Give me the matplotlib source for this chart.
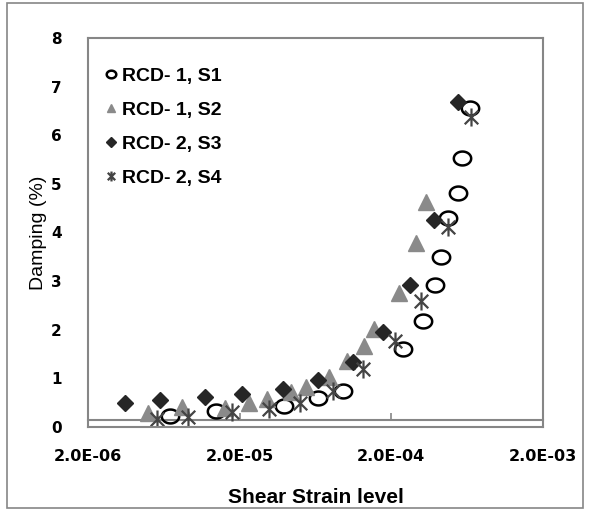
import numpy as np
import matplotlib
matplotlib.use("Agg")
from matplotlib import pyplot as plt
from matplotlib.path import Path
from matplotlib.patches import Rectangle

# data (strain, damping %)
s1_x = [6.98e-6, 1.39e-5, 3.93e-5, 6.55e-5, 9.57e-5, 2.39e-4, 3.24e-4, 3.91e-4,
        4.25e-4, 4.70e-4, 5.47e-4, 5.82e-4, 6.61e-4]
s1_y = [0.23, 0.33, 0.43, 0.59, 0.74, 1.60, 2.17, 2.92, 3.49, 4.29, 4.82, 5.53, 6.56]

s2_x = [5.01e-6, 8.35e-6, 1.59e-5, 2.31e-5, 3.05e-5, 4.38e-5, 5.51e-5, 7.80e-5,
        1.02e-4, 1.32e-4, 1.54e-4, 2.23e-4, 2.90e-4, 3.41e-4]
s2_y = [0.28, 0.41, 0.39, 0.49, 0.58, 0.72, 0.82, 1.03, 1.35, 1.67, 2.02, 2.75, 3.79, 4.62]

s3_x = [3.52e-6, 6.00e-6, 1.18e-5, 2.08e-5, 3.84e-5, 6.58e-5, 1.11e-4, 1.76e-4,
        2.64e-4, 3.84e-4, 5.53e-4]
s3_y = [0.49, 0.56, 0.62, 0.68, 0.79, 0.97, 1.34, 1.95, 2.92, 4.26, 6.69]

s4_x = [5.69e-6, 9.16e-6, 1.77e-5, 3.13e-5, 4.99e-5, 8.22e-5, 1.31e-4, 2.10e-4,
        3.13e-4, 4.70e-4, 6.71e-4]
s4_y = [0.17, 0.21, 0.31, 0.38, 0.50, 0.75, 1.20, 1.76, 2.60, 4.12, 6.37]

labels = ["RCD- 1, S1", "RCD- 1, S2", "RCD- 2, S3", "RCD- 2, S4"]
xticks = [2e-6, 2e-5, 2e-4, 2e-3]
xtick_labels = ["2.0E-06", "2.0E-05", "2.0E-04", "2.0E-03"]

# excel style asterisk: an x with a vertical bar
star = Path([(0, -1), (0, 1), (-0.75, -0.75), (0.75, 0.75), (-0.75, 0.75), (0.75, -0.75)],
            [Path.MOVETO, Path.LINETO] * 3)
# circles in the picture are a bit squashed
t = np.linspace(0, 2*np.pi, 60)
oval = Path(np.column_stack([np.cos(t), 0.8*np.sin(t)]), closed=True)

grey = "#868686"
fig = plt.figure(figsize=(5.89, 5.14), dpi=100)
ax = fig.add_axes([88/589, 1-427/514, 455/589, 389/514])

ax.plot(s1_x, s1_y, marker=oval, ls='none', ms=12.5, mfc='none', mec='black', mew=1.8, label=labels[0])
ax.plot(s2_x, s2_y, '^', ls='none', ms=11, color='#8a8a8a', mec='#8a8a8a', label=labels[1])
ax.plot(s3_x, s3_y, 'D', ls='none', ms=8.5, color='#262626', label=labels[2])
ax.plot(s4_x, s4_y, marker=star, ls='none', ms=13, mec='#444444', mew=1.6, label=labels[3])

ax.set_xscale('log')
ax.set_xlim(2e-6, 2e-3)
ax.set_ylim(0, 8)
ax.set_xticks(xticks, xtick_labels)
ax.xaxis.set_minor_locator(matplotlib.ticker.NullLocator())
ax.set_yticks(range(9))
ax.tick_params(axis='x', length=0, pad=16, labelsize=11.5)
ax.tick_params(axis='y', length=0, pad=19, labelsize=11)
for lab in ax.get_xticklabels() + ax.get_yticklabels():
    lab.set_fontweight('bold')
for sp in ax.spines.values():
    sp.set_color(grey)
    sp.set_linewidth(1.5)

# horizontal axis crossing a little above zero, with its two inner ticks
sec = ax.secondary_xaxis(7/389)
sec.set_xticks([2e-5, 2e-4], ["", ""])
sec.xaxis.set_minor_locator(matplotlib.ticker.NullLocator())
sec.tick_params(axis='x', direction='in', length=5, width=1.2, color=grey)
sec.spines['bottom'].set_color(grey)
sec.spines['bottom'].set_linewidth(1.5)

ax.set_xlabel("Shear Strain level", fontsize=15, fontweight='bold',
              family='Liberation Sans', labelpad=17)
ax.set_ylabel("Damping (%)", fontsize=14, family='Liberation Sans', labelpad=3)

ax.legend(loc='upper left', bbox_to_anchor=(0.0, 0.97), frameon=False,
          markerscale=0.55, handlelength=0.6, handletextpad=0.25, labelspacing=0.85,
          prop={'family': 'Liberation Sans', 'weight': 'bold', 'size': 14})

fig.patches.append(Rectangle((7/589, 6/514), 576/589, 505/514, transform=fig.transFigure,
                             fill=False, edgecolor=grey, linewidth=1.2))

fig.savefig("out.png", dpi=100)
